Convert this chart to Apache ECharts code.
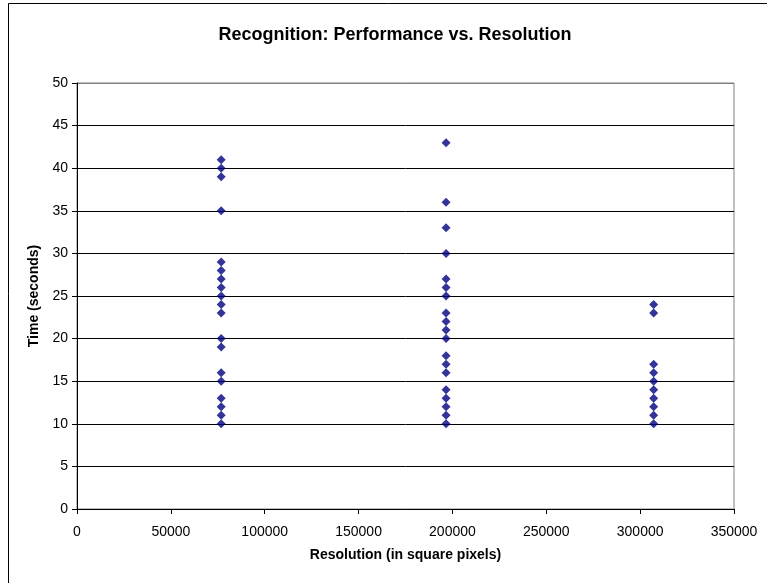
<!DOCTYPE html>
<html>
<head>
<meta charset="utf-8">
<style>
  html, body { margin: 0; padding: 0; background: #fff; }
  #chart { width: 767px; height: 583px; }
</style>
<script src="https://cdn.jsdelivr.net/npm/echarts@6/dist/echarts.min.js"></script>
</head>
<body>
<div id="chart"></div>
<script>
// Image resolutions tested (square pixels): 320x240, 512x384, 640x480
const resolutions = [76800, 196608, 307200];

// Recognition times (seconds) measured at each resolution
const times320x240 = [41, 40, 39, 35, 29, 28, 27, 26, 25, 24, 23, 20, 19, 16, 15, 13, 12, 11, 10];
const times512x384 = [43, 36, 33, 30, 27, 26, 25, 23, 22, 21, 20, 18, 17, 16, 14, 13, 12, 11, 10];
const times640x480 = [24, 23, 17, 16, 15, 14, 13, 12, 11, 10];

// Axis ticks
const xTicks = { min: 0, max: 350000, step: 50000 };
const yTicks = { min: 0, max: 50, step: 5 };

const groups = [times320x240, times512x384, times640x480];
const points = [];
groups.forEach((list, i) => {
  list.forEach(t => points.push([resolutions[i], t]));
});

const FONT = '"Liberation Sans", Arial, sans-serif';

// grid lines: black, except the top one which forms the plot border
const nLines = (yTicks.max - yTicks.min) / yTicks.step + 1;
const splitColors = [];
for (let i = 0; i < nLines; i++) splitColors.push(i === nLines - 1 ? '#808080' : '#000000');

const chart = echarts.init(document.getElementById('chart'), null, { renderer: 'canvas' });
chart.setOption({
  backgroundColor: '#ffffff',
  animation: false,
  title: {
    text: 'Recognition: Performance vs. Resolution',
    left: 390,
    top: 21,
    textAlign: 'center',
    textStyle: { fontFamily: FONT, fontSize: 18, fontWeight: 'bold', color: '#000' }
  },
  graphic: [
    {
      type: 'rect',
      shape: { x: 8.5, y: 3.5, width: 900, height: 900 },
      style: { fill: 'none', stroke: '#000', lineWidth: 1 },
      silent: true,
      z: -1
    }
  ],
  grid: {
    left: 77,
    top: 83,
    width: 657,
    height: 426,
    show: true,
    borderColor: '#808080',
    borderWidth: 1,
    backgroundColor: '#fff'
  },
  xAxis: {
    type: 'value',
    min: xTicks.min,
    max: xTicks.max,
    interval: xTicks.step,
    name: 'Resolution (in square pixels)',
    nameLocation: 'middle',
    nameGap: 39,
    nameTextStyle: { fontFamily: FONT, fontSize: 14, fontWeight: 'bold', color: '#000' },
    axisLine: { show: true, onZero: false, lineStyle: { color: '#000', width: 1 } },
    axisTick: { show: true, inside: false, length: 5, lineStyle: { color: '#000' } },
    axisLabel: {
      margin: 16,
      fontFamily: FONT, fontSize: 14, color: '#000',
      formatter: v => String(v)
    },
    splitLine: { show: false }
  },
  yAxis: {
    type: 'value',
    min: yTicks.min,
    max: yTicks.max,
    interval: yTicks.step,
    name: 'Time (seconds)',
    nameLocation: 'middle',
    nameGap: 33,
    nameRotate: 90,
    nameTextStyle: { fontFamily: FONT, fontSize: 14, fontWeight: 'bold', color: '#000' },
    axisLine: { show: true, onZero: false, lineStyle: { color: '#000', width: 1 } },
    axisTick: { show: true, inside: false, length: 5, lineStyle: { color: '#000' } },
    axisLabel: {
      margin: 9,
      fontFamily: FONT, fontSize: 14, color: '#000',
      formatter: v => String(v)
    },
    splitLine: { show: true, lineStyle: { color: splitColors, width: 1 } }
  },
  series: [
    {
      name: 'Series1',
      type: 'scatter',
      symbol: 'diamond',
      symbolSize: [9, 9],
      itemStyle: { color: '#000080' },
      data: points,
      z: 5
    }
  ]
});
</script>
</body>
</html>
